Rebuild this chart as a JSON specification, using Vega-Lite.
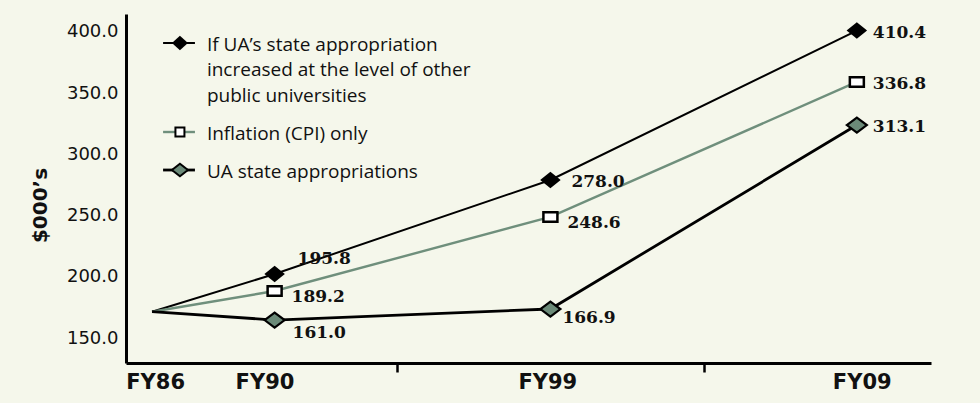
{
  "$schema": "https://vega.github.io/schema/vega-lite/v6.json",
  "width": 805,
  "height": 349,
  "autosize": {"type": "none"},
  "padding": {"left": 126, "top": 14, "right": 49, "bottom": 40},
  "background": "#f5f7eb",
  "config": {"view": {"stroke": null}},
  "datasets": {
    "series": [
      {"series": "peer", "year": 1986, "plotted": 171.5, "value": null},
      {"series": "peer", "year": 1990, "plotted": 202.3, "value": 195.8},
      {"series": "peer", "year": 1999, "plotted": 279.1, "value": 278.0},
      {"series": "peer", "year": 2009, "plotted": 401.2, "value": 410.4},
      {"series": "cpi", "year": 1986, "plotted": 171.5, "value": null},
      {"series": "cpi", "year": 1990, "plotted": 188.4, "value": 189.2},
      {"series": "cpi", "year": 1999, "plotted": 248.9, "value": 248.6},
      {"series": "cpi", "year": 2009, "plotted": 359.2, "value": 336.8},
      {"series": "ua", "year": 1986, "plotted": 171.5, "value": null},
      {"series": "ua", "year": 1990, "plotted": 164.7, "value": 161.0},
      {"series": "ua", "year": 1999, "plotted": 173.7, "value": 166.9},
      {"series": "ua", "year": 2009, "plotted": 324.0, "value": 313.1}
    ],
    "legend": [
      {"series": "peer", "ly": 391.0, "text": "If UA’s state appropriation\nincreased at the level of other\npublic universities"},
      {"series": "cpi", "ly": 318.3, "text": "Inflation (CPI) only"},
      {"series": "ua", "ly": 287.25, "text": "UA state appropriations"}
    ]
  },
  "layer": [
    {
      "data": {"name": "series"},
      "mark": {"type": "line", "interpolate": "linear"},
      "encoding": {
        "x": {
          "field": "year", "type": "quantitative",
          "scale": {"domain": [1985.15, 2011.42], "nice": false, "zero": false},
          "axis": {
            "values": [1986.1, 1989.67, 1994, 1998.9, 2004, 2009.16],
            "labelExpr": "datum.value < 1988 ? 'FY86' : datum.value < 1992 ? 'FY90' : datum.value == 1994 ? '' : datum.value < 2000 ? 'FY99' : datum.value == 2004 ? '' : 'FY09'",
            "title": null,
            "grid": false,
            "domainColor": "#000000",
            "domainWidth": 3,
            "tickColor": "#000000",
            "tickWidth": 2.5,
            "tickSize": 9,
            "tickOpacity": {"condition": {"test": "datum.value == 1994 || datum.value == 2004", "value": 1}, "value": 0},
            "labelFont": "DejaVu Sans",
            "labelFontWeight": "bold",
            "labelFontSize": 21,
            "labelColor": "#111111",
            "labelPadding": -1,
            "labelFlush": false,
            "labelOverlap": false,
            "labelBound": false
          }
        },
        "y": {
          "field": "plotted", "type": "quantitative",
          "scale": {"domain": [129.6, 414.7], "nice": false, "zero": false},
          "axis": {
            "values": [150, 200, 250, 300, 350, 400],
            "format": ".1f",
            "grid": false,
            "ticks": false,
            "domainColor": "#000000",
            "domainWidth": 3,
            "labelFont": "DejaVu Sans",
            "labelFontSize": 18,
            "labelColor": "#111111",
            "labelPadding": 8,
            "title": "$000’s",
            "titleFont": "DejaVu Sans",
            "titleFontWeight": "bold",
            "titleFontSize": 20,
            "titleColor": "#111111",
            "titleAngle": -90,
            "titleX": -86,
            "titleY": 191,
            "titleAlign": "center",
            "titleBaseline": "middle"
          }
        },
        "color": {
          "field": "series", "type": "nominal",
          "scale": {"domain": ["peer", "cpi", "ua"], "range": ["#000000", "#6f8f7c", "#000000"]},
          "legend": null
        },
        "strokeWidth": {
          "field": "series", "type": "nominal",
          "scale": {"domain": ["peer", "cpi", "ua"], "range": [2, 2.8, 2.2]},
          "legend": null
        },
        "detail": {"field": "series"}
      }
    },
    {
      "data": {"name": "legend"},
      "mark": {"type": "rule"},
      "encoding": {
        "x": {"datum": 1986.36, "type": "quantitative"},
        "x2": {"datum": 1987.40},
        "y": {"field": "ly", "type": "quantitative"},
        "color": {"field": "series", "type": "nominal", "legend": null},
        "strokeWidth": {"field": "series", "type": "nominal", "legend": null}
      }
    },
    {
      "data": {"name": "series"},
      "transform": [{"filter": "datum.series == 'peer' && datum.year > 1986"}],
      "mark": {"type": "point", "shape": "M-1,0L0,-0.8L1,0L0,0.8Z", "size": 420, "filled": true, "fill": "#000000", "stroke": null, "opacity": 1},
      "encoding": {
        "x": {"field": "year", "type": "quantitative"},
        "y": {"field": "plotted", "type": "quantitative"}
      }
    },
    {
      "data": {"name": "series"},
      "transform": [{"filter": "datum.series == 'cpi' && datum.year > 1986"}],
      "mark": {"type": "point", "shape": "M-1,-0.67H1V0.67H-1Z", "size": 196, "filled": false, "fill": "#ffffff", "fillOpacity": 1, "stroke": "#000000", "strokeWidth": 2.5, "opacity": 1},
      "encoding": {
        "x": {"field": "year", "type": "quantitative"},
        "y": {"field": "plotted", "type": "quantitative"}
      }
    },
    {
      "data": {"name": "series"},
      "transform": [{"filter": "datum.series == 'ua' && datum.year > 1986"}],
      "mark": {"type": "point", "shape": "M-1,0L0,-0.75L1,0L0,0.75Z", "size": 400, "filled": false, "fill": "#6b8a78", "fillOpacity": 1, "stroke": "#000000", "strokeWidth": 2.2, "opacity": 1},
      "encoding": {
        "x": {"field": "year", "type": "quantitative"},
        "y": {"field": "plotted", "type": "quantitative"}
      }
    },
    {
      "data": {"name": "legend"},
      "transform": [{"filter": "datum.series == 'peer'"}],
      "mark": {"type": "point", "shape": "M-1,0L0,-0.9L1,0L0,0.9Z", "size": 256, "filled": true, "fill": "#000000", "stroke": null, "opacity": 1},
      "encoding": {
        "x": {"datum": 1986.91, "type": "quantitative"},
        "y": {"field": "ly", "type": "quantitative"}
      }
    },
    {
      "data": {"name": "legend"},
      "transform": [{"filter": "datum.series == 'cpi'"}],
      "mark": {"type": "point", "shape": "square", "size": 81, "filled": false, "fill": "#ffffff", "fillOpacity": 1, "stroke": "#000000", "strokeWidth": 2, "opacity": 1},
      "encoding": {
        "x": {"datum": 1986.91, "type": "quantitative"},
        "y": {"field": "ly", "type": "quantitative"}
      }
    },
    {
      "data": {"name": "legend"},
      "transform": [{"filter": "datum.series == 'ua'"}],
      "mark": {"type": "point", "shape": "M-1,0L0,-0.78L1,0L0,0.78Z", "size": 256, "filled": false, "fill": "#6b8a78", "fillOpacity": 1, "stroke": "#000000", "strokeWidth": 2, "opacity": 1},
      "encoding": {
        "x": {"datum": 1986.91, "type": "quantitative"},
        "y": {"field": "ly", "type": "quantitative"}
      }
    },
    {
      "data": {"name": "legend"},
      "mark": {"type": "text", "align": "left", "baseline": "alphabetic", "dy": 7.5, "lineBreak": "\n", "lineHeight": 25.5, "font": "Open Sans", "fontSize": 19, "color": "#111111"},
      "encoding": {
        "x": {"datum": 1987.79, "type": "quantitative"},
        "y": {"field": "ly", "type": "quantitative"},
        "text": {"field": "text"}
      }
    },
    {
      "data": {"name": "series"},
      "transform": [{"filter": "datum.year == 2009"}],
      "mark": {"type": "text", "align": "left", "baseline": "middle", "dx": 16, "dy": 2, "font": "DejaVu Serif", "fontWeight": "bold", "fontSize": 17, "color": "#111111"},
      "encoding": {
        "x": {"field": "year", "type": "quantitative"},
        "y": {"field": "plotted", "type": "quantitative"},
        "text": {"field": "value", "type": "quantitative", "format": ".1f"}
      }
    },
    {
      "data": {"name": "series"},
      "transform": [{"filter": "datum.year == 1999 && datum.series == 'peer'"}],
      "mark": {"type": "text", "align": "left", "baseline": "middle", "dx": 21, "dy": 2.5, "font": "DejaVu Serif", "fontWeight": "bold", "fontSize": 17, "color": "#111111"},
      "encoding": {
        "x": {"field": "year", "type": "quantitative"},
        "y": {"field": "plotted", "type": "quantitative"},
        "text": {"field": "value", "type": "quantitative", "format": ".1f"}
      }
    },
    {
      "data": {"name": "series"},
      "transform": [{"filter": "datum.year > 1986 && datum.year < 2009 && datum.series == 'cpi'"}],
      "mark": {"type": "text", "align": "left", "baseline": "middle", "dx": 17, "dy": 6, "font": "DejaVu Serif", "fontWeight": "bold", "fontSize": 17, "color": "#111111"},
      "encoding": {
        "x": {"field": "year", "type": "quantitative"},
        "y": {"field": "plotted", "type": "quantitative"},
        "text": {"field": "value", "type": "quantitative", "format": ".1f"}
      }
    },
    {
      "data": {"name": "series"},
      "transform": [{"filter": "datum.year == 1999 && datum.series == 'ua'"}],
      "mark": {"type": "text", "align": "left", "baseline": "middle", "dx": 12, "dy": 8.5, "font": "DejaVu Serif", "fontWeight": "bold", "fontSize": 17, "color": "#111111"},
      "encoding": {
        "x": {"field": "year", "type": "quantitative"},
        "y": {"field": "plotted", "type": "quantitative"},
        "text": {"field": "value", "type": "quantitative", "format": ".1f"}
      }
    },
    {
      "data": {"name": "series"},
      "transform": [{"filter": "datum.year == 1990 && datum.series == 'peer'"}],
      "mark": {"type": "text", "align": "left", "baseline": "middle", "dx": 23, "dy": -15, "font": "DejaVu Serif", "fontWeight": "bold", "fontSize": 17, "color": "#111111"},
      "encoding": {
        "x": {"field": "year", "type": "quantitative"},
        "y": {"field": "plotted", "type": "quantitative"},
        "text": {"field": "value", "type": "quantitative", "format": ".1f"}
      }
    },
    {
      "data": {"name": "series"},
      "transform": [{"filter": "datum.year == 1990 && datum.series == 'ua'"}],
      "mark": {"type": "text", "align": "left", "baseline": "middle", "dx": 18, "dy": 12.5, "font": "DejaVu Serif", "fontWeight": "bold", "fontSize": 17, "color": "#111111"},
      "encoding": {
        "x": {"field": "year", "type": "quantitative"},
        "y": {"field": "plotted", "type": "quantitative"},
        "text": {"field": "value", "type": "quantitative", "format": ".1f"}
      }
    }
  ]
}
